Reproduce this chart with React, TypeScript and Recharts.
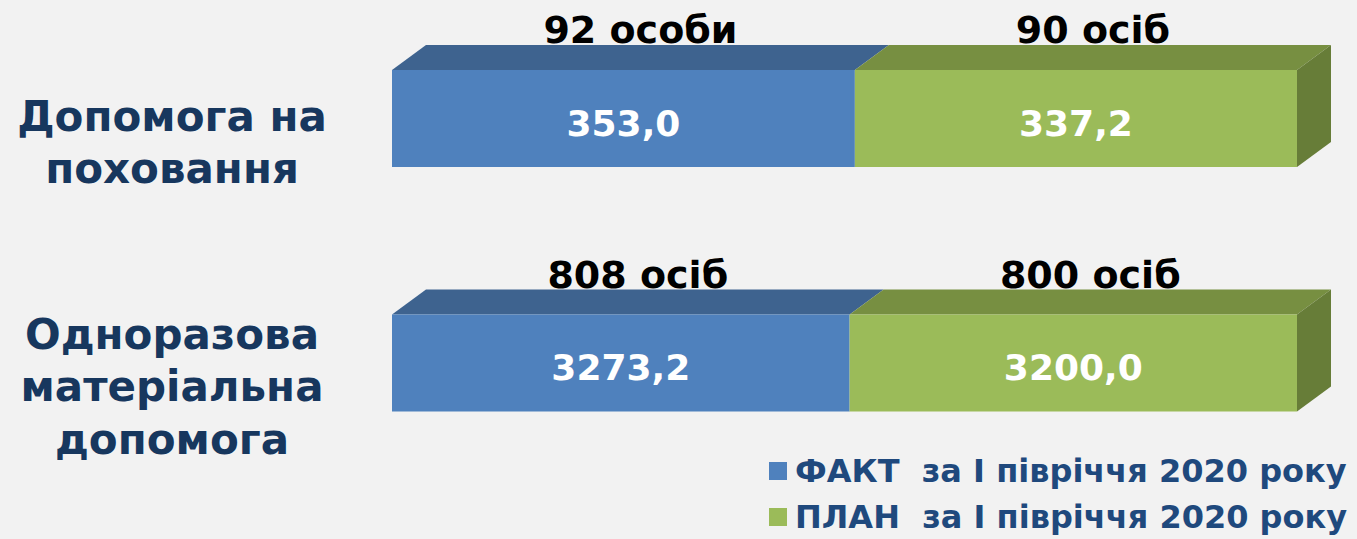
import React from "react";
import { BarChart, Bar, XAxis, YAxis, Legend, LabelList } from "recharts";

// categories (line breaks = how the labels wrap)
const categories = ["Допомога на\nпоховання", "Одноразова\nматеріальна\nдопомога"];
const factValues = [353.0, 3273.2];
const planValues = [337.2, 3200.0];
const factPeople = ["92 особи", "808 осіб"];
const planPeople = ["90 осіб", "800 осіб"];
const seriesNames = ["ФАКТ  за І півріччя 2020 року", "ПЛАН  за І півріччя 2020 року"];

const data = categories.map((name, i) => ({
  name,
  fact: factValues[i],
  plan: planValues[i],
  factPeople: factPeople[i],
  planPeople: planPeople[i],
}));

const FONT = '"DejaVu Sans", Verdana, sans-serif';
const DX = 34;
const DY = 25;

const colors = {
  fact: { front: "#4F81BD", top: "#3E638F" },
  plan: { front: "#9BBB59", top: "#778F41", side: "#677D38" },
};

function Box3D(props: any) {
  const { x, y, width, height, front, top, side } = props;
  if (width == null || width <= 0) return null;
  return (
    <g>
      <polygon
        points={`${x},${y} ${x + DX},${y - DY} ${x + width + DX},${y - DY} ${x + width},${y}`}
        fill={top}
      />
      <rect x={x} y={y} width={width} height={height} fill={front} />
      {side && (
        <polygon
          points={`${x + width},${y} ${x + width + DX},${y - DY} ${x + width + DX},${y + height - DY} ${x + width},${y + height}`}
          fill={side}
        />
      )}
    </g>
  );
}

const fmt = (v: number) => v.toFixed(1).replace(".", ",");

function ValueLabel(props: any) {
  const { x, y, width, height, value } = props;
  return (
    <text
      x={x + width / 2}
      y={y + height / 2 + 17}
      textAnchor="middle"
      fill="#FFFFFF"
      fontFamily={FONT}
      fontWeight="bold"
      fontSize={36}
    >
      {fmt(Number(value))}
    </text>
  );
}

function PeopleLabel(props: any) {
  const { x, y, width, value } = props;
  return (
    <text
      x={x + width / 2 + DX / 2}
      y={y - 27}
      textAnchor="middle"
      fill="#000000"
      fontFamily={FONT}
      fontWeight="bold"
      fontSize={38}
    >
      {value}
    </text>
  );
}

function CategoryTick(props: any) {
  const { y, payload } = props;
  const lines = String(payload.value).split("\n");
  const step = 52.5;
  const first = y + 38.5 - ((lines.length - 1) / 2) * step;
  return (
    <text textAnchor="middle" fill="#17375E" fontFamily={FONT} fontWeight="bold" fontSize={42}>
      {lines.map((l, i) => (
        <tspan key={i} x={172} y={first + i * step}>
          {l}
        </tspan>
      ))}
    </text>
  );
}

function LegendBox() {
  const items = [
    { name: seriesNames[0], color: colors.fact.front },
    { name: seriesNames[1], color: colors.plan.front },
  ];
  return (
    <div
      style={{
        fontFamily: FONT,
        fontWeight: "bold",
        fontSize: 32,
        lineHeight: "46px",
        color: "#1F497D",
        whiteSpace: "pre",
        textAlign: "left",
      }}
    >
      {items.map((it) => (
        <div key={it.name} style={{ display: "flex", alignItems: "center", height: 46 }}>
          <span style={{ display: "inline-block", width: 18, height: 18, background: it.color, marginRight: 8 }} />
          <span>{it.name}</span>
        </div>
      ))}
    </div>
  );
}

export default function App() {
  return (
    <div style={{ position: "absolute", left: 0, top: 0, width: 1357, height: 539, background: "#F2F2F2", overflow: "hidden" }}>
      <BarChart
        width={1357}
        height={539}
        data={data}
        layout="vertical"
        stackOffset="expand"
        barSize={97}
        margin={{ top: -4, right: 60, bottom: 54, left: 0 }}
      >
        <XAxis type="number" domain={[0, 1]} hide />
        <YAxis
          type="category"
          dataKey="name"
          width={392}
          axisLine={false}
          tickLine={false}
          tick={<CategoryTick />}
          interval={0}
        />
        <Legend
          layout="horizontal"
          align="center"
          verticalAlign="middle"
          content={<LegendBox />}
          wrapperStyle={{ left: 769, top: 448, width: 590, height: 92 }}
        />
        <Bar
          dataKey="fact"
          stackId="a"
          isAnimationActive={false}
          fill={colors.fact.front}
          shape={(p: any) => <Box3D {...p} front={colors.fact.front} top={colors.fact.top} />}
        >
          <LabelList dataKey="fact" content={<ValueLabel />} />
          <LabelList dataKey="factPeople" content={<PeopleLabel />} />
        </Bar>
        <Bar
          dataKey="plan"
          stackId="a"
          isAnimationActive={false}
          fill={colors.plan.front}
          shape={(p: any) => (
            <Box3D {...p} front={colors.plan.front} top={colors.plan.top} side={colors.plan.side} />
          )}
        >
          <LabelList dataKey="plan" content={<ValueLabel />} />
          <LabelList dataKey="planPeople" content={<PeopleLabel />} />
        </Bar>
      </BarChart>
    </div>
  );
}
